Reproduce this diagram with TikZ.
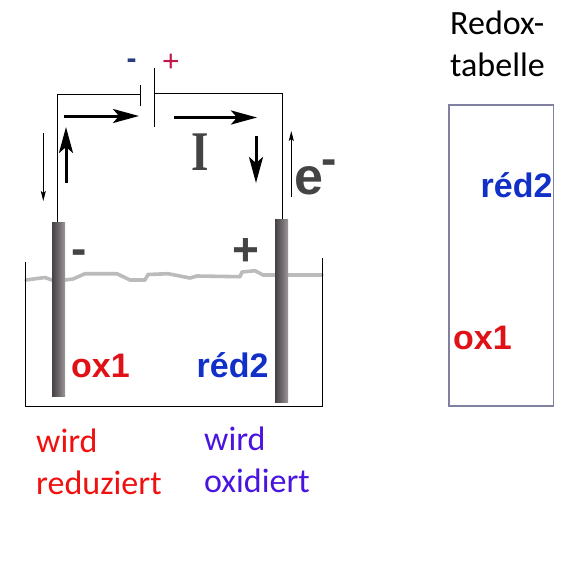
\documentclass[tikz,border=0pt]{standalone}
\usepackage{fontspec}
\usepackage{graphicx}
\setmainfont{Carlito}
\newfontfamily\arialfont{Liberation Sans}
\newfontfamily\timesfont{Liberation Serif}
\usetikzlibrary{arrows.meta}
\definecolor{oxred}{HTML}{E01218}
\definecolor{redblue}{HTML}{1030C8}
\definecolor{wirdred}{HTML}{F01010}
\definecolor{wirdblue}{HTML}{4A14E0}
\definecolor{dgrey}{HTML}{444444}
\definecolor{waterg}{HTML}{BBBBBB}
\definecolor{tableg}{HTML}{8080A0}
\definecolor{elA}{HTML}{474245}
\definecolor{elB}{HTML}{6E696C}
\definecolor{elC}{HTML}{A09A9C}
\definecolor{batminus}{HTML}{283C80}
\definecolor{batplus}{HTML}{C01848}
\tikzset{
  wire/.style={draw=black,line width=1pt},
  bigarrow/.style={draw=black,line width=3pt,-{Stealth[length=26pt,width=14pt,inset=6pt]}},
  thinarrow/.style={draw=black,line width=1pt,-{Stealth[length=10pt,width=5pt,inset=2pt]}},
  electrode/.style={left color=elA,right color=elC,middle color=elB,draw=none,inner sep=0pt,anchor=north west},
  chem/.style={font=\arialfont\bfseries\fontsize{34}{34}\selectfont,inner sep=0pt,anchor=base west},
  lbl/.style={font=\fontsize{34}{42}\selectfont,inner sep=0pt,anchor=base west,align=left},
  pt/.style={inner sep=0pt,anchor=base}
}
\begin{document}
\begin{tikzpicture}[x=1pt,y=-1pt]
\useasboundingbox (0,0) rectangle (583,566);
% water level
\draw[waterg,line width=3.6pt,line join=round,line cap=round]
 (26,280) -- (37,278.5) -- (45,277.5) -- (52,280) -- (65,280) -- (73,279) -- (85,273.7) -- (117,273.7) -- (130,280) -- (145,280) -- (148,274.5) -- (168,273.7) -- (190,278) -- (197,276) -- (240,276.7) -- (242,272) -- (255,270.7) -- (263,275) -- (322,275);
% vessel
\draw[wire] (25.3,262) -- (25.3,406.5) -- (322,406.5) -- (322,258);
% electrodes
\node[electrode,minimum width=13pt,minimum height=174pt] (el) at (52,222) {};
\node[electrode,minimum width=13pt,minimum height=183pt] (er) at (275,219) {};
% battery
\coordinate (pa) at (140.7,85);
\coordinate (pb) at (140.7,106);
\coordinate (qa) at (154.3,68);
\coordinate (qb) at (154.3,127);
\coordinate (jl) at (140.7,94);
\coordinate (jr) at (155,93);
\coordinate (tl) at (57.7,94);
\coordinate (tr) at (282.5,93);
\draw[wire] (pa) -- (pb);
\draw[wire] (qa) -- (qb);
\draw[wire] (el.north -| tl) -- (tl) -- (jl);
\draw[wire] (jr) -- (tr) -- (er.north -| tr);
% arrows
\coordinate (a1s) at (64,116); \coordinate (a1e) at (139,116);
\coordinate (a2s) at (174,117.5); \coordinate (a2e) at (257,117.5);
\coordinate (a3s) at (66,183); \coordinate (a3e) at (66,127);
\coordinate (a4s) at (256,136); \coordinate (a4e) at (256,183);
\coordinate (t1s) at (43.3,133); \coordinate (t1e) at (43.3,201);
\coordinate (t2s) at (291.3,197); \coordinate (t2e) at (291.3,131);
\draw[bigarrow] (a1s) -- (a1e);
\draw[bigarrow] (a2s) -- (a2e);
\draw[bigarrow] (a3s) -- (a3e);
\draw[bigarrow] (a4s) -- (a4e);
\draw[thinarrow] (t1s) -- (t1e);
\draw[thinarrow] (t2s) -- (t2e);
% labels
\node[pt,text=batminus,font=\arialfont\bfseries\fontsize{30}{30}\selectfont] (bm) at (131.5,68.5) {-};
\node[pt,text=batplus,font=\arialfont\fontsize{30}{30}\selectfont] (bp) at (171,71) {+};
\node[pt,text=dgrey,font=\timesfont\bfseries\fontsize{56}{56}\selectfont] (cur) at (200.5,170) {\scalebox{.8}[1]{I}};
\node[pt,text=dgrey,font=\arialfont\bfseries\fontsize{52}{52}\selectfont] (ee) at (309,194) {e};
\node[pt,text=dgrey,font=\arialfont\bfseries\fontsize{46}{46}\selectfont] (em) at (329.5,174.5) {-};
\node[pt,text=dgrey,font=\arialfont\bfseries\fontsize{46}{46}\selectfont] (cm) at (79.5,264.5) {-};
\node[pt,text=dgrey,font=\arialfont\bfseries\fontsize{46}{46}\selectfont] (cp) at (246,265) {+};
\node[chem,text=oxred] (ox) at (71,377.7) {ox1};
\node[chem,text=redblue] (red) at (196.5,377.7) {réd2};
\node[chem,text=redblue] (red2) at (480.5,197) {réd2};
\node[chem,text=oxred] (ox2) at (453,349) {ox1};
\node[lbl,text=wirdred] (w1) at (36,494) {wird\\reduziert};
\node[lbl,text=wirdblue] (w2) at (204,492) {wird\\oxidiert};
\node[lbl,text=black] (tt) at (450,76) {Redox-\\tabelle};
% table
\node[draw=tableg,line width=1.6pt,minimum width=104.5pt,minimum height=301pt,inner sep=0pt,anchor=north west] (tab) at (448.3,104) {};
\end{tikzpicture}
\end{document}
